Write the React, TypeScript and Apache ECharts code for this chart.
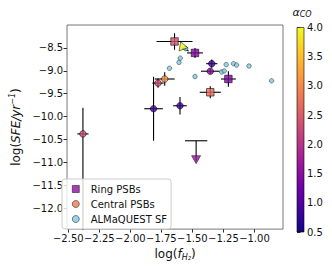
import React, { useEffect, useRef } from "react";
import * as echarts from "echarts";

// ---- data ----
const ringX = [-1.644, -1.479, -1.21, -1.356];
const ringY = [-8.36, -8.61, -9.18, -9.47];
const ringXErr = [0.145, 0.064, 0.06, 0.085];
const ringYErr = [0.18, 0.11, 0.17, 0.13];
const ringAlpha = [2.4, 1.4, 1.4, 2.7];

const centralX = [-1.344, -1.356, -1.6, -1.813, -1.777, -1.723, -2.382];
const centralY = [-8.845, -9.01, -9.765, -9.83, -9.27, -9.18, -10.38];
const centralXErr = [0.045, 0.075, 0.055, 0.075, 0.045, 0.08, 0.045];
const centralYErrLo = [0.09, 0.06, 0.19, 0.7, 0.1, 0.15, 2.1];
const centralYErrHi = [0.09, 0.06, 0.19, 0.7, 0.1, 0.15, 0.57];
const centralAlpha = [0.85, 1.5, 0.8, 0.9, 2.3, 3.1, 2.3];

const sfX = [-1.554, -1.598, -1.608, -1.685, -1.479, -1.228, -1.169, -1.144, -1.044, -1.264, -1.244, -0.862];
const sfY = [-8.515, -8.724, -8.817, -8.946, -9.125, -8.866, -8.845, -8.875, -8.897, -9.026, -9.004, -9.22];

const limitX = [-1.47];
const limitY = [-10.53];
const limitEnd = [-11.03];
const limitXErr = [0.09];
const limitAlpha = [1.6];

const yellowX = [-1.587];
const yellowY = [-8.5];
const yellowAlpha = [4.0];

const xTicks = [-2.5, -2.25, -2.0, -1.75, -1.5, -1.25, -1.0];
const yTicks = [-12.0, -11.5, -11.0, -10.5, -10.0, -9.5, -9.0, -8.5];

const PLASMA = ["#0d0887", "#46039f", "#7201a8", "#9c179e", "#bd3786", "#d8576b", "#ed7953", "#fb9f3a", "#fdca26", "#f0f921"];

function hexToRgb(h: string) {
  return [parseInt(h.slice(1, 3), 16), parseInt(h.slice(3, 5), 16), parseInt(h.slice(5, 7), 16)];
}
function plasma(a: number) {
  let t = (a - 0.5) / 3.5;
  t = Math.max(0, Math.min(1, t));
  const p = t * (PLASMA.length - 1);
  const i = Math.min(PLASMA.length - 2, Math.floor(p));
  const f = p - i;
  const c0 = hexToRgb(PLASMA[i]);
  const c1 = hexToRgb(PLASMA[i + 1]);
  const c = c0.map((v, k) => Math.round(v + (c1[k] - v) * f));
  return `rgb(${c[0]},${c[1]},${c[2]})`;
}

const fmt = (d: number) => (v: number) => (v < 0 ? "\u2212" : "") + Math.abs(v).toFixed(d);

export default function App() {
  const ref = useRef<HTMLDivElement>(null);
  useEffect(() => {
    if (!ref.current) return;
    const chart = echarts.init(ref.current, null, { renderer: "svg" });
    const font = "DejaVu Sans";

    const errRows: number[][] = [];
    ringX.forEach((x, i) => errRows.push([x, ringY[i], x - ringXErr[i], x + ringXErr[i], ringY[i] - ringYErr[i], ringY[i] + ringYErr[i]]));
    centralX.forEach((x, i) =>
      errRows.push([x, centralY[i], x - centralXErr[i], x + centralXErr[i], centralY[i] - centralYErrLo[i], centralY[i] + centralYErrHi[i]])
    );

    const stops = PLASMA.map((c, i) => ({ offset: i / (PLASMA.length - 1), color: c }));

    const option: any = {
      animation: false,
      textStyle: { fontFamily: font },
      grid: [
        { left: 57, top: 25, right: 49, bottom: 34, show: true, borderColor: "#555", borderWidth: 0.8, backgroundColor: "transparent" },
        { left: 297, top: 27.5, width: 7, height: 204.5 },
      ],
      xAxis: [
        {
          type: "value",
          min: -2.51,
          max: -0.77,
          axisLine: { show: false },
          splitLine: { show: false },
          axisTick: { show: true, customValues: xTicks, length: 3.5, lineStyle: { color: "#333" } },
          axisLabel: { customValues: xTicks, formatter: fmt(2), color: "#111", fontSize: 10, margin: 4, fontFamily: font },
          name: "{n|log(}{i|f}{s|H\u2082}{n|)}",
          nameLocation: "middle",
          nameGap: 15,
          nameTextStyle: {
            rich: {
              n: { fontSize: 12, fontFamily: font, color: "#111" },
              i: { fontSize: 12, fontFamily: font, fontStyle: "italic", color: "#111" },
              s: { fontSize: 8, fontFamily: font, fontStyle: "italic", color: "#111", padding: [6, 0, 0, 0] },
            },
          },
        },
        { type: "value", gridIndex: 1, show: false, min: 0, max: 1 },
      ],
      yAxis: [
        {
          type: "value",
          min: -12.46,
          max: -8.0,
          axisLine: { show: false },
          splitLine: { show: false },
          axisTick: { show: true, customValues: yTicks, length: 3.5, lineStyle: { color: "#333" } },
          axisLabel: { customValues: yTicks, formatter: fmt(1), color: "#111", fontSize: 10, margin: 4, fontFamily: font },
          name: "{n|log(}{i|SFE/yr}{s|\u22121}{n|)}",
          nameLocation: "middle",
          nameGap: 35,
          nameTextStyle: {
            rich: {
              n: { fontSize: 12, fontFamily: font, color: "#111" },
              i: { fontSize: 12, fontFamily: font, fontStyle: "italic", color: "#111" },
              s: { fontSize: 8, fontFamily: font, fontStyle: "italic", color: "#111", padding: [0, 0, 7, 0] },
            },
          },
        },
        {
          type: "value",
          gridIndex: 1,
          position: "right",
          min: 0.5,
          max: 4.0,
          interval: 0.5,
          axisLine: { show: false },
          splitLine: { show: false },
          axisTick: { show: true, length: 3.5, lineStyle: { color: "#333" } },
          axisLabel: { formatter: (v: number) => v.toFixed(1), color: "#111", fontSize: 10, margin: 3, fontFamily: font },
        },
      ],
      legend: {
        left: 62,
        top: 179,
        orient: "vertical",
        padding: [4, 4, 4, 10],
        itemGap: 3,
        itemWidth: 7,
        itemHeight: 7,
        backgroundColor: "rgba(255,255,255,0.8)",
        borderColor: "#ccc",
        borderWidth: 1,
        borderRadius: 3,
        formatter: (name: string) => "  " + name,
        textStyle: { fontSize: 10, color: "#111", fontFamily: font, lineHeight: 12 },
        data: [
          { name: "Ring PSBs", icon: "rect", itemStyle: { color: "#8e0ca4", borderColor: "#000", borderWidth: 0.6 } },
          { name: "Central PSBs", icon: "circle", itemStyle: { color: "#ee7b51", borderColor: "#000", borderWidth: 0.6 } },
          { name: "ALMaQUEST SF", icon: "circle", itemStyle: { color: "#7ec8e3", borderColor: "#000", borderWidth: 0.6 } },
        ],
        z: 20,
      },
      graphic: [
        {
          type: "rect",
          shape: { x: 297, y: 27.5, width: 7, height: 204.5 },
          style: { fill: new echarts.graphic.LinearGradient(0, 1, 0, 0, stops), stroke: "#000", lineWidth: 0.6 },
          z: 5,
        },
        {
          type: "text",
          x: 302,
          y: 12,
          style: {
            text: "{a|\u03b1}{s|CO}",
            align: "center",
            verticalAlign: "middle",
            rich: {
              a: { fontSize: 11, fontStyle: "italic", fontFamily: font, fill: "#111" },
              s: { fontSize: 8, fontStyle: "italic", fontFamily: font, fill: "#111", padding: [5, 0, 0, 0] },
            },
          },
        },
      ],
      series: [
        {
          type: "custom",
          name: "err",
          xAxisIndex: 0,
          yAxisIndex: 0,
          data: errRows,
          z: 2,
          renderItem: (params: any, api: any) => {
            const y = api.value(1);
            const x = api.value(0);
            const a = api.coord([api.value(2), y]);
            const b = api.coord([api.value(3), y]);
            const c = api.coord([x, api.value(4)]);
            const d = api.coord([x, api.value(5)]);
            const st = { stroke: "#000", lineWidth: 1.1 };
            return {
              type: "group",
              children: [
                { type: "line", shape: { x1: a[0], y1: a[1], x2: b[0], y2: b[1] }, style: st },
                { type: "line", shape: { x1: c[0], y1: c[1], x2: d[0], y2: d[1] }, style: st },
              ],
            };
          },
        },
        {
          type: "custom",
          name: "limit",
          data: limitX.map((x, i) => [x, limitY[i], limitEnd[i], limitXErr[i]]),
          z: 2,
          renderItem: (params: any, api: any) => {
            const x = api.value(0);
            const y = api.value(1);
            const a = api.coord([x - api.value(3), y]);
            const b = api.coord([x + api.value(3), y]);
            const c = api.coord([x, y]);
            const d = api.coord([x, api.value(2)]);
            const st = { stroke: "#000", lineWidth: 1.1 };
            return {
              type: "group",
              children: [
                { type: "line", shape: { x1: a[0], y1: a[1], x2: b[0], y2: b[1] }, style: st },
                { type: "line", shape: { x1: c[0], y1: c[1], x2: d[0], y2: d[1] - 3 }, style: st },
              ],
            };
          },
        },
        {
          type: "custom",
          name: "yarrow",
          data: yellowX.map((x, i) => [x, yellowY[i]]),
          z: 2,
          renderItem: (params: any, api: any) => {
            const c = api.coord([api.value(0), api.value(1)]);
            return { type: "line", shape: { x1: c[0], y1: c[1], x2: c[0] + 7, y2: c[1] + 3 }, style: { stroke: "#000", lineWidth: 1.1 } };
          },
        },
        {
          type: "scatter",
          name: "ALMaQUEST SF",
          symbol: "circle",
          symbolSize: 4.5,
          z: 3,
          itemStyle: { color: "#7ec8e3", borderColor: "#222", borderWidth: 0.6 },
          data: sfX.map((x, i) => [x, sfY[i]]),
        },
        {
          type: "scatter",
          name: "Central PSBs",
          symbol: "circle",
          symbolSize: 6.5,
          z: 4,
          itemStyle: { color: "#ee7b51", borderColor: "#000", borderWidth: 0.7 },
          data: centralX.map((x, i) => ({ value: [x, centralY[i]], itemStyle: { color: plasma(centralAlpha[i]) } })),
        },
        {
          type: "scatter",
          name: "Ring PSBs",
          symbol: "rect",
          symbolSize: 7.5,
          z: 4,
          itemStyle: { color: "#8e0ca4", borderColor: "#000", borderWidth: 0.7 },
          data: ringX.map((x, i) => ({ value: [x, ringY[i]], itemStyle: { color: plasma(ringAlpha[i]) } })),
        },
        {
          type: "scatter",
          name: "limitMarker",
          symbol: "triangle",
          symbolRotate: 180,
          symbolSize: [9, 8],
          symbolOffset: [0, -4],
          z: 4,
          itemStyle: { borderColor: "#000", borderWidth: 0.6 },
          data: limitX.map((x, i) => ({ value: [x, limitEnd[i]], itemStyle: { color: plasma(limitAlpha[i]) } })),
        },
        {
          type: "scatter",
          name: "yellowMarker",
          symbol: "triangle",
          symbolRotate: 140,
          symbolSize: [9, 8],
          z: 4,
          itemStyle: { borderColor: "#000", borderWidth: 0.6 },
          data: yellowX.map((x, i) => ({ value: [x, yellowY[i]], itemStyle: { color: plasma(yellowAlpha[i]) } })),
        },
      ],
    };
    chart.setOption(option);
    return () => chart.dispose();
  }, []);
  return <div ref={ref} style={{ width: 332, height: 266, position: "absolute", left: 0, top: 0 }} />;
}
